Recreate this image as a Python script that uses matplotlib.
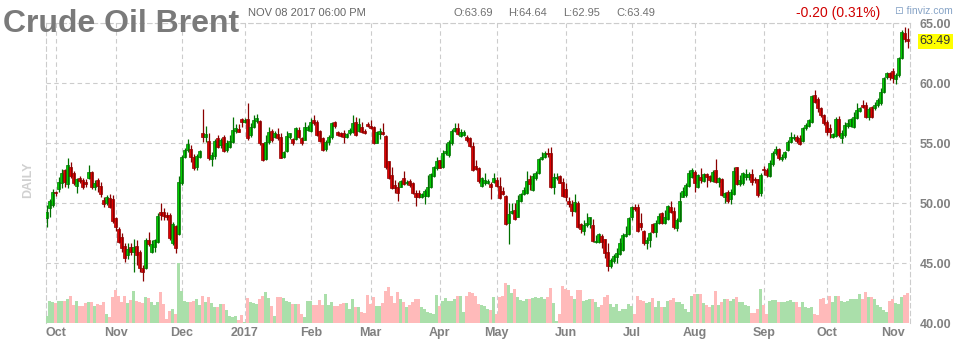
import numpy as np
import matplotlib
matplotlib.use('Agg')
import matplotlib.pyplot as plt

plt.rcParams['font.family'] = ['Liberation Sans', 'DejaVu Sans']

# months shown on the x axis and how many daily bars each one has
months = ['Sep', 'Oct', 'Nov', 'Dec', '2017', 'Feb', 'Mar', 'Apr', 'May',
          'Jun', 'Jul', 'Aug', 'Sep', 'Oct', 'Nov']
bars_in_month = [3, 20, 22, 21, 22, 20, 23, 19, 23, 22, 21, 23, 21, 22, 6]

# daily OHLC, Brent, late Sep 2016 -> Nov 08 2017
opens = [
    48.80, 49.64, 49.90, 50.97, 51.16, 51.72, 52.78, 51.58, 53.05, 52.50,
    51.47, 52.08, 51.94, 51.78, 52.08, 52.58, 51.39, 51.94, 51.44, 50.28,
    50.00, 50.41, 50.33, 48.75, 47.90, 47.22, 46.47, 45.69, 46.36, 45.97,
    46.44, 45.91, 44.64, 44.64, 46.91, 45.97, 46.39, 46.80, 49.25, 49.25,
    49.03, 49.03, 46.66, 48.10, 47.41, 51.66, 53.89, 54.44, 54.53, 53.89,
    53.05, 53.89, 55.83, 55.55, 55.19, 53.69, 53.97, 55.41, 54.86, 55.53,
    54.44, 54.72, 55.14, 56.03, 56.19, 57.03, 56.80, 57.03, 55.69, 56.39,
    56.86, 56.86, 55.00, 53.69, 55.08, 56.03, 55.55, 55.75, 55.55, 53.89,
    54.40, 55.55, 55.33, 55.33, 56.11, 55.41, 55.28, 56.11, 56.00, 56.94,
    56.80, 56.00, 55.40, 54.50, 55.10, 55.50, 56.75, 55.90, 55.83, 55.88,
    55.55, 55.83, 55.97, 56.75, 56.05, 56.39, 56.05, 56.61, 56.44, 56.33,
    55.05, 55.75, 55.91, 55.61, 53.53, 52.36, 51.53, 51.39, 51.39, 52.08,
    51.66, 51.89, 51.66, 50.83, 50.83, 50.55, 50.61, 50.61, 51.33, 52.28,
    52.91, 53.61, 53.05, 54.16, 54.03, 55.05, 56.03, 56.25, 55.61, 55.69,
    55.50, 55.41, 54.78, 53.11, 52.97, 51.44, 51.66, 51.72, 51.61, 51.80,
    51.94, 51.44, 51.05, 50.61, 48.39, 49.16, 49.44, 48.89, 50.22, 50.78,
    50.83, 52.00, 51.11, 52.08, 52.50, 53.66, 53.83, 54.22, 54.22, 51.33,
    52.08, 52.28, 51.80, 51.16, 50.22, 49.91, 49.39, 50.00, 48.28, 47.72,
    48.16, 48.28, 48.19, 46.75, 46.75, 47.28, 47.00, 45.97, 44.78, 45.22,
    45.55, 45.78, 46.11, 47.28, 47.44, 48.89, 49.72, 49.72, 48.33, 47.72,
    46.72, 46.94, 48.28, 47.64, 48.39, 49.16, 48.33, 48.66, 49.66, 49.39,
    47.91, 48.55, 50.55, 50.69, 51.44, 52.22, 52.64, 51.33, 52.22, 51.89,
    52.44, 52.28, 51.89, 52.78, 51.80, 52.00, 50.55, 50.97, 50.33, 50.78,
    53.00, 51.61, 51.66, 52.16, 52.16, 52.44, 52.05, 52.00, 50.90, 52.90,
    52.80, 52.30, 53.30, 54.20, 54.50, 53.70, 53.90, 54.44, 55.14, 55.41,
    55.55, 55.41, 55.22, 56.25, 56.44, 56.80, 59.03, 58.66, 57.91, 57.36,
    56.80, 56.25, 55.50, 55.61, 57.00, 55.41, 55.69, 56.44, 56.44, 56.33,
    57.08, 57.72, 58.19, 58.19, 57.22, 58.00, 57.91, 58.19, 58.33, 59.30,
    60.50, 60.89, 61.05, 60.33, 60.69, 62.08, 64.16, 63.69,
]
highs = [
    49.83, 50.33, 51.16, 51.05, 52.22, 52.83, 52.90, 53.75, 53.47, 52.72,
    52.14, 52.28, 52.14, 52.00, 53.19, 52.72, 51.94, 52.08, 51.80, 50.50,
    50.69, 50.78, 50.69, 48.83, 47.99, 47.50, 46.66, 46.66, 46.66, 47.00,
    46.94, 46.10, 44.86, 47.08, 47.58, 46.94, 47.03, 49.16, 50.03, 49.58,
    49.25, 49.16, 48.47, 48.19, 52.30, 54.03, 54.58, 55.36, 54.86, 54.08,
    54.08, 54.44, 57.86, 56.47, 55.83, 54.30, 55.36, 55.69, 55.47, 55.69,
    55.28, 55.69, 57.22, 56.58, 56.58, 57.08, 57.08, 58.33, 56.66, 57.36,
    57.41, 56.94, 55.00, 55.69, 56.39, 56.19, 56.03, 56.25, 55.83, 54.36,
    56.00, 55.90, 55.44, 56.39, 56.33, 55.55, 56.80, 56.50, 57.08, 57.36,
    56.94, 56.10, 55.50, 55.30, 55.70, 56.80, 56.90, 56.00, 55.97, 56.11,
    55.90, 56.30, 57.36, 57.22, 57.08, 56.80, 56.20, 56.80, 56.94, 56.44,
    56.05, 56.25, 56.66, 55.66, 53.53, 53.05, 51.94, 51.80, 51.94, 52.72,
    51.94, 52.00, 51.80, 51.11, 51.11, 50.89, 51.16, 52.36, 52.50, 53.11,
    53.89, 53.61, 54.44, 55.05, 55.28, 56.16, 56.66, 56.66, 56.16, 56.10,
    55.70, 55.50, 55.14, 53.61, 53.05, 52.22, 52.55, 52.00, 51.80, 52.55,
    52.16, 52.16, 51.39, 50.69, 50.00, 50.00, 50.00, 50.69, 50.89, 51.33,
    52.72, 52.36, 52.55, 52.72, 53.75, 54.30, 54.39, 54.58, 54.66, 52.55,
    52.55, 52.36, 52.08, 51.66, 50.55, 50.28, 50.78, 50.22, 48.39, 48.61,
    49.16, 48.89, 48.66, 47.36, 47.50, 47.44, 47.00, 46.72, 45.41, 45.78,
    46.25, 47.08, 47.50, 48.11, 48.89, 49.78, 49.94, 49.94, 49.16, 47.78,
    47.16, 47.64, 48.39, 48.61, 49.16, 49.30, 49.44, 49.86, 50.22, 49.66,
    48.75, 50.97, 51.39, 51.66, 52.78, 52.91, 52.78, 52.44, 52.91, 52.55,
    52.50, 52.36, 52.78, 53.66, 52.22, 52.08, 50.97, 51.11, 51.16, 53.00,
    53.00, 52.36, 52.64, 52.83, 52.64, 52.83, 52.22, 52.05, 52.50, 53.10,
    52.95, 53.60, 54.40, 54.80, 54.60, 54.10, 54.40, 55.28, 55.97, 55.78,
    55.69, 55.69, 56.39, 56.72, 57.00, 59.03, 59.44, 58.83, 58.00, 57.41,
    56.94, 56.61, 55.89, 57.22, 57.28, 56.11, 56.80, 57.00, 57.08, 57.64,
    58.33, 58.00, 58.61, 58.47, 58.00, 58.11, 58.47, 58.75, 59.58, 60.50,
    60.97, 60.97, 61.25, 60.83, 62.16, 64.44, 64.66, 64.64,
]
lows = [
    48.00, 48.89, 49.72, 50.60, 50.97, 51.30, 51.40, 51.25, 52.08, 51.53,
    50.89, 51.72, 51.16, 51.39, 52.00, 51.16, 51.10, 50.97, 50.50, 49.72,
    49.86, 49.58, 48.33, 47.72, 46.66, 45.97, 45.14, 45.40, 45.69, 44.30,
    44.86, 44.25, 43.55, 44.53, 46.47, 45.83, 45.97, 46.66, 48.60, 48.60,
    48.60, 46.94, 46.53, 45.90, 47.36, 51.53, 53.75, 54.25, 53.47, 52.78,
    52.78, 53.75, 55.14, 55.14, 53.61, 53.14, 53.69, 54.58, 54.58, 54.25,
    54.25, 54.58, 55.00, 55.83, 55.91, 56.39, 56.70, 55.28, 55.55, 56.25,
    56.66, 54.86, 53.53, 53.61, 54.91, 55.14, 55.41, 55.28, 53.75, 53.75,
    54.30, 55.40, 54.90, 55.28, 55.41, 54.90, 55.28, 56.00, 55.97, 56.50,
    55.60, 55.10, 54.40, 54.35, 54.90, 55.40, 56.30, 55.60, 55.55, 55.00,
    55.45, 55.70, 55.83, 55.65, 55.97, 55.83, 55.80, 56.33, 56.16, 54.94,
    55.00, 55.33, 55.69, 52.90, 52.03, 51.16, 50.83, 50.22, 51.33, 51.53,
    51.53, 51.33, 50.75, 49.78, 50.41, 50.41, 49.97, 50.55, 51.25, 52.16,
    52.78, 52.91, 52.97, 54.03, 53.89, 54.86, 55.97, 55.69, 55.55, 55.60,
    55.14, 54.72, 52.72, 52.78, 51.66, 51.39, 51.53, 51.61, 50.36, 51.66,
    51.33, 50.36, 50.69, 48.22, 46.61, 49.11, 48.61, 48.83, 50.14, 50.69,
    50.78, 51.11, 51.05, 51.94, 52.44, 53.61, 53.75, 53.89, 51.25, 50.78,
    51.94, 51.66, 50.55, 50.22, 49.72, 48.94, 49.30, 47.91, 47.55, 47.36,
    48.05, 47.91, 46.80, 46.66, 46.66, 46.25, 45.41, 44.39, 44.58, 45.05,
    45.05, 45.69, 46.05, 47.16, 47.36, 48.61, 49.39, 47.64, 47.78, 46.53,
    46.16, 46.33, 47.50, 47.16, 48.28, 48.28, 48.28, 48.61, 49.22, 47.83,
    47.72, 48.47, 50.50, 50.55, 51.39, 52.08, 50.97, 51.25, 51.66, 51.80,
    51.33, 51.80, 51.80, 51.72, 51.33, 50.61, 50.00, 50.05, 49.94, 50.69,
    51.53, 51.44, 51.53, 51.94, 51.94, 51.53, 51.66, 50.55, 50.60, 52.40,
    52.20, 52.20, 53.10, 54.00, 53.60, 53.50, 53.70, 54.39, 55.00, 55.28,
    55.05, 54.86, 55.14, 56.11, 56.39, 56.72, 58.33, 57.64, 57.22, 56.53,
    55.69, 55.41, 55.41, 55.50, 55.55, 55.05, 55.55, 56.25, 56.33, 56.25,
    57.00, 57.64, 57.91, 57.08, 56.94, 57.08, 57.78, 58.00, 58.19, 59.16,
    60.33, 60.28, 60.00, 59.94, 60.55, 62.00, 63.47, 62.95,
]
closes = [
    49.25, 50.19, 50.91, 50.83, 51.80, 52.50, 51.80, 53.19, 52.28, 51.72,
    52.00, 51.86, 51.39, 51.58, 52.64, 51.33, 51.72, 51.47, 50.75, 49.94,
    50.50, 49.66, 48.50, 48.05, 46.80, 46.25, 45.47, 46.19, 45.97, 46.39,
    45.69, 44.64, 44.30, 46.97, 46.58, 46.58, 46.94, 48.97, 49.03, 48.97,
    48.89, 47.14, 48.25, 46.30, 51.80, 53.89, 54.44, 54.91, 53.83, 52.91,
    53.97, 54.36, 55.55, 55.77, 53.80, 54.03, 55.19, 54.72, 55.28, 54.36,
    55.00, 55.19, 56.11, 56.25, 55.97, 56.75, 56.94, 55.41, 56.39, 56.94,
    57.08, 55.00, 53.61, 55.14, 55.97, 55.28, 55.83, 55.47, 53.80, 54.25,
    55.60, 55.83, 55.05, 56.25, 55.55, 55.00, 56.33, 56.33, 56.80, 56.66,
    55.69, 55.20, 54.45, 55.13, 55.55, 56.70, 56.44, 55.70, 55.61, 55.55,
    55.75, 56.11, 56.66, 55.70, 56.61, 55.97, 55.83, 56.44, 56.25, 55.00,
    55.91, 56.05, 55.78, 53.00, 52.08, 51.25, 51.25, 50.83, 51.86, 51.61,
    51.80, 51.53, 50.89, 50.50, 50.50, 50.78, 51.05, 51.33, 52.44, 53.05,
    53.53, 52.97, 54.22, 54.36, 55.14, 56.03, 56.25, 55.75, 55.97, 55.91,
    55.28, 54.78, 52.78, 52.83, 51.89, 52.08, 51.94, 51.86, 51.33, 52.08,
    51.44, 50.41, 50.78, 48.28, 49.11, 49.39, 48.66, 50.28, 50.78, 51.11,
    51.89, 51.61, 52.28, 52.55, 53.66, 53.83, 54.22, 54.11, 51.33, 52.16,
    52.22, 51.72, 50.61, 50.55, 49.94, 49.39, 50.14, 48.00, 47.83, 48.16,
    48.33, 48.83, 46.89, 46.89, 47.44, 46.80, 45.89, 44.78, 45.28, 45.61,
    45.89, 46.66, 47.36, 47.44, 48.75, 49.66, 49.50, 47.72, 48.00, 46.66,
    46.94, 47.50, 47.64, 48.39, 48.94, 48.33, 48.83, 49.78, 49.30, 48.00,
    48.61, 50.19, 51.03, 51.53, 52.50, 52.78, 51.66, 52.36, 51.94, 52.44,
    52.16, 51.94, 52.64, 51.80, 52.08, 50.69, 50.83, 50.22, 50.97, 52.72,
    51.61, 51.94, 52.55, 52.44, 52.44, 51.80, 51.94, 50.69, 52.38, 52.75,
    52.34, 53.38, 54.20, 54.49, 53.78, 53.84, 54.27, 55.14, 55.55, 55.55,
    55.22, 54.94, 56.25, 56.53, 56.94, 58.94, 58.47, 57.91, 57.36, 56.66,
    55.97, 55.97, 55.78, 57.00, 55.69, 55.83, 56.53, 56.66, 57.00, 57.22,
    57.78, 57.91, 58.00, 57.16, 57.83, 57.22, 58.19, 58.61, 59.30, 60.41,
    60.89, 60.50, 60.41, 60.69, 62.08, 64.30, 63.69, 63.49,
]
# daily volume, thousand lots
volumes = [
    115, 340, 325, 300, 330, 330, 340, 365, 415, 280,
    340, 265, 265, 300, 325, 315, 265, 290, 280, 325,
    140, 100, 390, 505, 415, 315, 415, 300, 355, 490,
    330, 315, 300, 390, 380, 315, 275, 315, 465, 290,
    65, 190, 215, 140, 900, 490, 340, 315, 315, 330,
    365, 280, 415, 315, 390, 300, 250, 250, 290, 290,
    200, 115, 90, 115, 50, 130, 15, 380, 315, 300,
    290, 365, 415, 465, 380, 265, 115, 390, 400, 380,
    330, 315, 290, 290, 290, 140, 100, 340, 330, 280,
    280, 350, 280, 440, 280, 315, 265, 265, 290, 300,
    300, 215, 365, 250, 240, 165, 150, 430, 290, 390,
    265, 265, 300, 490, 550, 415, 300, 465, 365, 315,
    240, 280, 315, 365, 365, 240, 215, 165, 155, 140,
    430, 265, 330, 380, 330, 340, 365, 415, 415, 165,
    415, 465, 450, 415, 290, 280, 265, 215, 200, 390,
    140, 400, 415, 600, 580, 450, 515, 400, 350, 340,
    365, 365, 380, 400, 380, 400, 365, 390, 530, 300,
    40, 140, 565, 515, 500, 415, 365, 500, 500, 330,
    350, 365, 365, 315, 250, 280, 390, 430, 290, 240,
    290, 190, 215, 215, 290, 265, 140, 415, 350, 330,
    300, 315, 380, 240, 330, 250, 240, 330, 350, 380,
    315, 315, 290, 215, 165, 415, 440, 440, 440, 300,
    280, 250, 280, 490, 280, 315, 365, 365, 340, 365,
    400, 315, 315, 280, 265, 150, 150, 215, 515, 280,
    140, 330, 350, 350, 315, 315, 315, 340, 350, 315,
    315, 250, 315, 240, 230, 250, 140, 130, 365, 380,
    290, 415, 315, 415, 415, 330, 315, 340, 365, 365,
    365, 440, 365, 465, 400, 390, 365, 280, 240, 200,
    165, 340, 365, 300, 290, 390, 430, 450,
]

o = np.array(opens)
h = np.array(highs)
l = np.array(lows)
c = np.array(closes)
v = np.array(volumes)
n = len(c)
x = np.arange(1, n + 1)
up = c >= o

month_start = np.cumsum([1] + bars_in_month[:-1])

GRID = '#cccccc'
LABEL = '#808080'

fig = plt.figure(figsize=(9.55, 3.51), dpi=100)
rect = [46 / 955, (351 - 323.3) / 351, 864 / 955, 300 / 351]

# bottom layer: grid + tick labels
ax_g = fig.add_axes(rect)
ax_g.set_xlim(0.77, n + 0.77)
ax_g.set_ylim(40, 65)
ax_g.set_yticks([40, 45, 50, 55, 60, 65])
ax_g.set_yticklabels(['%.2f' % t for t in [40, 45, 50, 55, 60, 65]])
ax_g.yaxis.tick_right()
ax_g.set_xticks(month_start[1:])
ax_g.set_xticklabels(months[1:])
ax_g.tick_params(axis='y', length=0, pad=7, labelsize=9, labelcolor=LABEL)
ax_g.tick_params(axis='x', length=0, pad=3, labelsize=9, labelcolor=LABEL)
for lbl in ax_g.get_xticklabels() + ax_g.get_yticklabels():
    lbl.set_fontweight('bold')
ax_g.grid(True, color=GRID, linestyle=(0, (4, 3)), linewidth=0.8)
for side in ['left', 'right', 'top']:
    ax_g.spines[side].set_color(GRID)
    ax_g.spines[side].set_linestyle((0, (4, 3)))
    ax_g.spines[side].set_linewidth(0.8)
ax_g.spines['bottom'].set_visible(False)

# middle layer: volume
ax_v = fig.add_axes(rect, sharex=ax_g)
ax_v.set_ylim(0, 4500)
ax_v.bar(x, v, width=1.0, color=np.where(up, '#aadfaa', '#ffbaba'), linewidth=0)
ax_v.axis('off')

# top layer: candles
ax = fig.add_axes(rect, sharex=ax_g, sharey=ax_g)
edge = np.where(up, '#007000', '#8a0000')
fill = np.where(up, '#00e000', '#f00000')
ax.vlines(x, l, h, colors=edge, linewidth=0.9)
body_low = np.minimum(o, c)
body_h = np.maximum(np.abs(c - o), 0.04)
ax.bar(x, body_h, bottom=body_low, width=0.8, color=fill, edgecolor=edge, linewidth=0.5)
ax.axis('off')

# last price tag
ax_g.annotate('%.2f' % c[-1], xy=(1, c[-1]), xycoords=('axes fraction', 'data'),
              xytext=(7, 0), textcoords='offset points', ha='left', va='center',
              fontsize=9, color='#333333',
              bbox=dict(boxstyle='square,pad=0.15', facecolor='#ffff00', edgecolor='none'))

# header
fig.text(3 / 955, 1 - 32 / 351, 'Crude Oil Brent', fontsize=23, fontweight='bold',
         color='#7a7a7a', va='baseline', ha='left')
fig.text(248 / 955, 1 - 13 / 351, 'NOV 08 2017 06:00 PM', fontsize=8, color='#666666',
         va='center', ha='left')
for xp, s in [(453, 'O:63.69'), (508, 'H:64.64'), (563, 'L:62.95'), (616, 'C:63.49')]:
    fig.text(xp / 955, 1 - 13 / 351, s, fontsize=8, color='#707070', va='center', ha='left')
fig.text(796 / 955, 1 - 13 / 351, '-0.20 (0.31%)', fontsize=10, color='#d00000',
         va='center', ha='left')
fig.text(895 / 955, 1 - 11 / 351, '\u22a1 finviz.com', fontsize=7.5, color='#86a3c6',
         va='center', ha='left')
fig.text(28 / 955, 1 - 180 / 351, 'DAILY', fontsize=9, fontweight='bold', color='#d0d0d0',
         rotation=90, va='center', ha='center')

fig.savefig('out.png', dpi=100)
